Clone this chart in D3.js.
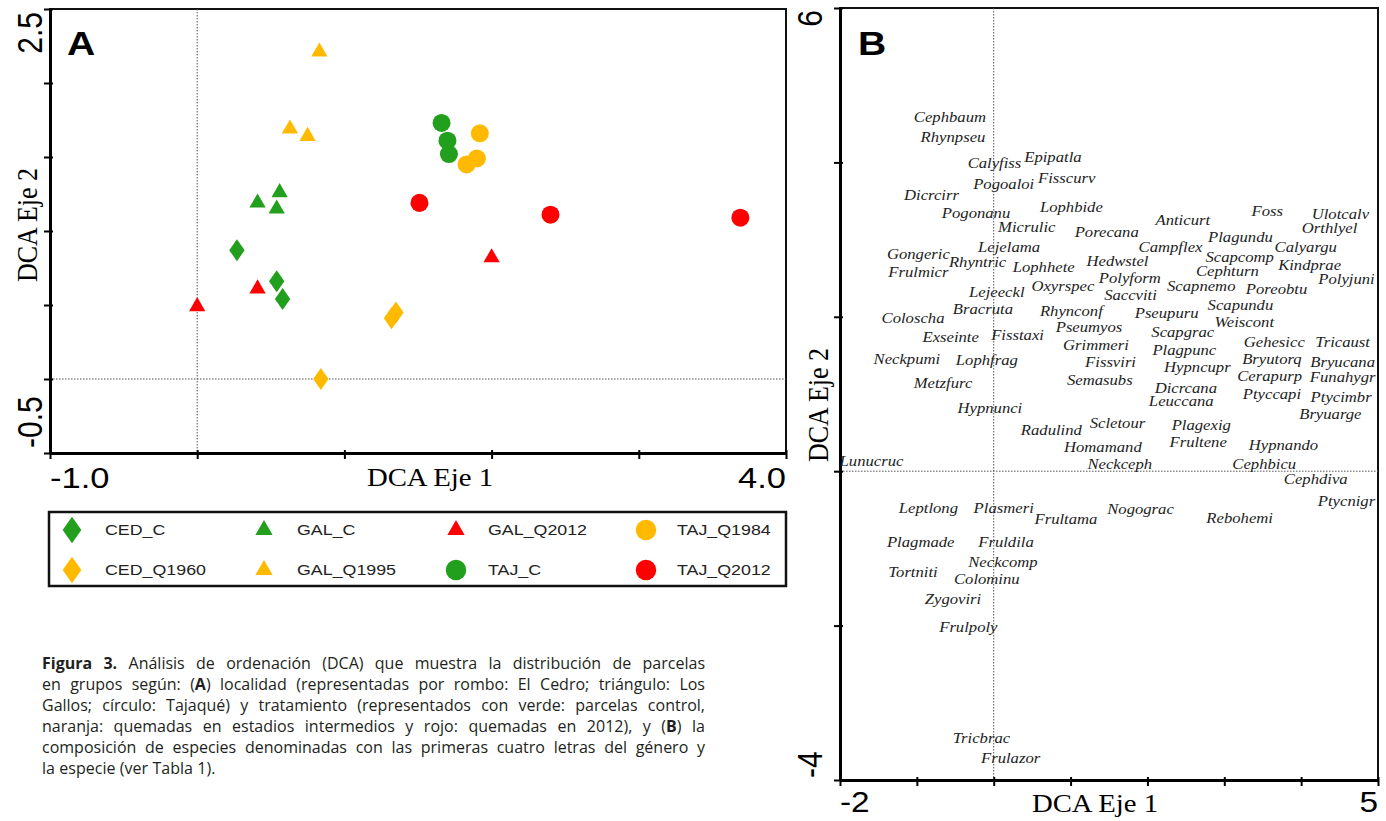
<!DOCTYPE html>
<html>
<head>
<meta charset="utf-8">
<script src="https://cdn.jsdelivr.net/npm/d3@7"></script>
<style>
  body { margin: 0; background: #fff; }
</style>
</head>
<body>
<svg id="chart" width="1386" height="821"></svg>
<script>
// ---- Panel A: sample scores per group ([eje1, eje2]) ----
const cedC     = [[0.27, 0.87], [0.54, 0.66], [0.58, 0.54]];
const cedQ1960 = [[1.32, 0.41], [1.35, 0.45], [0.84, 0.0]];
const galC     = [[0.41, 1.19], [0.56, 1.26], [0.54, 1.15]];
const galQ1995 = [[0.83, 2.21], [0.63, 1.69], [0.75, 1.64]];
const galQ2012 = [[0.0, 0.49], [0.41, 0.61], [2.0, 0.82]];
const tajC     = [[1.66, 1.73], [1.70, 1.61], [1.71, 1.52]];
const tajQ1984 = [[1.92, 1.66], [1.83, 1.45], [1.90, 1.49]];
const tajQ2012 = [[1.51, 1.19], [2.40, 1.11], [3.69, 1.09]];

const legendNames = ['CED_C', 'GAL_C', 'GAL_Q2012', 'TAJ_Q1984', 'CED_Q1960', 'GAL_Q1995', 'TAJ_C', 'TAJ_Q2012'];

// ticks
const ticksAx = [-1, 0, 1, 2, 3, 4];
const ticksAy = [-0.5, 0, 0.5, 1, 1.5, 2, 2.5];
const ticksBx = [-2, -1, 0, 1, 2, 3, 4, 5];
const ticksBy = [-4, -2, 0, 2, 4, 6];

// ---- Panel B: species scores ----
const speciesNames = [
  'Cephbaum', 'Rhynpseu', 'Calyfiss', 'Epipatla', 'Pogoaloi', 'Fisscurv', 'Dicrcirr', 'Lophbide',
  'Pogonanu', 'Micrulic', 'Porecana', 'Anticurt', 'Foss', 'Ulotcalv', 'Orthlyel', 'Plagundu',
  'Calyargu', 'Campflex', 'Lejelama', 'Gongeric', 'Rhyntric', 'Frulmicr', 'Lophhete', 'Hedwstel',
  'Scapcomp', 'Cephturn', 'Kindprae', 'Polyform', 'Polyjuni', 'Oxyrspec', 'Scapnemo', 'Poreobtu',
  'Saccviti', 'Lejeeckl', 'Bracruta', 'Scapundu', 'Rhynconf', 'Pseupuru', 'Coloscha', 'Weiscont',
  'Pseumyos', 'Scapgrac', 'Fisstaxi', 'Exseinte', 'Gehesicc', 'Tricaust', 'Grimmeri', 'Plagpunc',
  'Bryutorq', 'Bryucana', 'Neckpumi', 'Lophfrag', 'Fissviri', 'Hypncupr', 'Cerapurp', 'Funahygr',
  'Semasubs', 'Metzfurc', 'Dicrcana', 'Ptyccapi', 'Ptycimbr', 'Leuccana', 'Bryuarge', 'Hypnunci',
  'Scletour', 'Plagexig', 'Radulind', 'Frultene', 'Hypnando', 'Homamand', 'Cephbicu', 'Neckceph',
  'Lunucruc', 'Cephdiva', 'Ptycnigr', 'Leptlong', 'Plasmeri', 'Frultama', 'Nogograc', 'Rebohemi',
  'Plagmade', 'Fruldila', 'Neckcomp', 'Tortniti', 'Colominu', 'Zygoviri', 'Frulpoly', 'Tricbrac',
  'Frulazor'
];
const speciesX = [
  -0.57, -0.53, 0.01, 0.77, 0.13, 0.95, -0.81, 1.01,
  -0.23, 0.43, 1.47, 2.46, 3.56, 4.51, 4.37, 3.21,
  4.06, 2.30, 0.20, -0.98, -0.21, -0.98, 0.65, 1.61,
  3.20, 3.04, 4.11, 1.77, 4.59, 0.90, 2.70, 3.68,
  1.78, 0.04, -0.14, 3.21, 1.01, 2.25, -1.05, 3.26,
  1.24, 2.46, 0.31, -0.56, 3.65, 4.54, 1.33, 2.48,
  3.62, 4.54, -1.13, -0.09, 1.52, 2.65, 3.59, 4.54,
  1.38, -0.66, 2.50, 3.62, 4.52, 2.44, 4.38, -0.05,
  1.61, 2.70, 0.75, 2.66, 3.77, 1.42, 3.52, 1.64,
  -1.59, 4.19, 4.59, -0.85, 0.13, 0.94, 1.91, 3.20,
  -0.95, 0.16, 0.12, -1.05, -0.09, -0.53, -0.33, -0.16,
  0.22
];
const speciesY = [
  4.59, 4.33, 3.99, 4.07, 3.72, 3.80, 3.58, 3.42,
  3.35, 3.17, 3.10, 3.26, 3.37, 3.33, 3.15, 3.04,
  2.90, 2.90, 2.91, 2.82, 2.71, 2.58, 2.64, 2.73,
  2.78, 2.59, 2.67, 2.50, 2.49, 2.40, 2.40, 2.36,
  2.29, 2.32, 2.10, 2.15, 2.07, 2.05, 1.98, 1.94,
  1.87, 1.81, 1.77, 1.74, 1.67, 1.68, 1.63, 1.57,
  1.45, 1.42, 1.46, 1.44, 1.42, 1.35, 1.24, 1.22,
  1.18, 1.14, 1.08, 1.00, 0.96, 0.91, 0.74, 0.82,
  0.63, 0.60, 0.54, 0.38, 0.34, 0.31, 0.10, 0.10,
  0.13, -0.10, -0.38, -0.47, -0.47, -0.62, -0.49, -0.61,
  -0.92, -0.91, -1.17, -1.30, -1.39, -1.66, -2.02, -3.46,
  -3.72
];

const captionLines = [
  '**Figura 3.** Análisis de ordenación (DCA) que muestra la distribución de parcelas',
  'en grupos según: (**A**) localidad (representadas por rombo: El Cedro; triángulo: Los',
  'Gallos; círculo: Tajaqué) y tratamiento (representados con verde: parcelas control,',
  'naranja: quemadas en estadios intermedios y rojo: quemadas en 2012), y (**B**) la',
  'composición de especies denominadas con las primeras cuatro letras del género y',
  'la especie (ver Tabla 1).'
];

const GREEN = '#229f1c', ORANGE = '#ffba00', RED = '#ff0000';
const SX = 1.15; // the source figure is slightly stretched horizontally
const SANS = '"Liberation Sans", Arial, sans-serif';
const SERIF = '"Liberation Serif", "Times New Roman", serif';

const groups = [
  { name: 'CED_C', pts: cedC, shape: 'diamond', color: GREEN },
  { name: 'GAL_C', pts: galC, shape: 'triangle', color: GREEN },
  { name: 'GAL_Q2012', pts: galQ2012, shape: 'triangle', color: RED },
  { name: 'TAJ_Q1984', pts: tajQ1984, shape: 'circle', color: ORANGE },
  { name: 'CED_Q1960', pts: cedQ1960, shape: 'diamond', color: ORANGE },
  { name: 'GAL_Q1995', pts: galQ1995, shape: 'triangle', color: ORANGE },
  { name: 'TAJ_C', pts: tajC, shape: 'circle', color: GREEN },
  { name: 'TAJ_Q2012', pts: tajQ2012, shape: 'circle', color: RED }
];

// a wider diamond than d3's built-in one
const wideDiamond = {
  draw(ctx, size) {
    const h = Math.sqrt(size / 1.4), w = h * 0.7;
    ctx.moveTo(0, -h); ctx.lineTo(w, 0); ctx.lineTo(0, h); ctx.lineTo(-w, 0); ctx.closePath();
  }
};

const symbols = {
  diamond: d3.symbol().type(wideDiamond).size(170),
  triangle: d3.symbol().type(d3.symbolTriangle).size(115),
  circle: d3.symbol().type(d3.symbolCircle).size(255)
};

const svg = d3.select('#chart');

function label(g, s, x, y, o = {}) {
  return g.append('text')
    .attr('transform', `translate(${x},${y}) scale(${SX},1)${o.rot ? ' rotate(-90)' : ''}`)
    .attr('text-anchor', o.anchor || 'middle')
    .attr('dy', o.dy || '0.35em')
    .style('font-family', o.font || SANS)
    .style('font-size', (o.size || 14) + 'px')
    .style('font-weight', o.weight || 'normal')
    .style('font-style', o.italic ? 'italic' : 'normal')
    .attr('fill', o.fill || '#000')
    .text(s);
}

function frame(g, x, y) {
  const [x0, x1] = x.range(), [y1, y0] = y.range();
  g.append('rect')
    .attr('x', x0).attr('y', y0).attr('width', x1 - x0).attr('height', y1 - y0)
    .attr('fill', 'none').attr('stroke', '#111').attr('stroke-width', 2);
  // dotted zero lines
  g.append('line')
    .attr('x1', x(0)).attr('x2', x(0)).attr('y1', y0).attr('y2', y1)
    .attr('stroke', '#555').attr('stroke-width', 1).attr('stroke-dasharray', '1.5,1.5');
  g.append('line')
    .attr('x1', x0).attr('x2', x1).attr('y1', y(0)).attr('y2', y(0))
    .attr('stroke', '#555').attr('stroke-width', 1).attr('stroke-dasharray', '1.5,1.5');
}

function axes(g, x, y, tx, ty) {
  const xa = g.append('g')
    .attr('transform', `translate(0,${y.range()[0]})`)
    .call(d3.axisBottom(x).tickValues(tx).tickFormat('').tickSize(6).tickSizeOuter(0));
  const ya = g.append('g')
    .attr('transform', `translate(${x.range()[0]},0)`)
    .call(d3.axisLeft(y).tickValues(ty).tickFormat('').tickSize(6).tickSizeOuter(0));
  xa.selectAll('.tick line').attr('y1', -3).attr('stroke-width', 2);
  ya.selectAll('.tick line').attr('x1', 3).attr('stroke-width', 2);
  [xa, ya].forEach(a => a.select('.domain').attr('stroke-width', 3));
}

// ================= Panel A =================
const xA = d3.scaleLinear().domain([-1, 4]).range([50, 786]);
const yA = d3.scaleLinear().domain([-0.5, 2.5]).range([453, 9]);
const gA = svg.append('g');
frame(gA, xA, yA);
axes(gA, xA, yA, ticksAx, ticksAy);

groups.forEach(grp => {
  gA.selectAll(null)
    .data(grp.pts)
    .enter().append('path')
    .attr('d', symbols[grp.shape])
    .attr('transform', d => `translate(${xA(d[0])},${yA(d[1])})`)
    .attr('fill', grp.color);
});

label(gA, 'A', 67, 55, { size: 34, weight: 'bold', anchor: 'start', dy: '0' });
label(gA, '-1.0', xA(-1), 477, { size: 30, anchor: 'start' });
label(gA, '4.0', xA(4), 477, { size: 30, anchor: 'end' });
label(gA, '2.5', 30, yA(2.5) + 3, { size: 30, anchor: 'end', rot: true });
label(gA, '-0.5', 30, yA(-0.5) - 5, { size: 30, anchor: 'start', rot: true });
label(gA, 'DCA Eje 1', (xA(-1) + xA(4)) / 2 + 12, 477, { size: 25, font: SERIF });
label(gA, 'DCA Eje 2', 27, 225, { size: 26, font: SERIF, rot: true });

// legend
const legend = svg.append('g');
legend.append('rect')
  .attr('x', 49).attr('y', 512).attr('width', 737).attr('height', 74)
  .attr('fill', 'none').attr('stroke', '#111').attr('stroke-width', 2.5);
const legSymX = [72, 264, 456, 646], legTxtX = [105, 297, 488, 677], legRowY = [530, 570];
const legSym = {
  diamond: d3.symbol().type(wideDiamond).size(250),
  triangle: d3.symbol().type(d3.symbolTriangle).size(130),
  circle: d3.symbol().type(d3.symbolCircle).size(330)
};
legendNames.forEach((n, i) => {
  const grp = groups.find(g => g.name === n);
  const c = i % 4, r = Math.floor(i / 4);
  legend.append('path')
    .attr('d', legSym[grp.shape])
    .attr('transform', `translate(${legSymX[c]},${legRowY[r]})`)
    .attr('fill', grp.color);
  label(legend, n, legTxtX[c], legRowY[r], { size: 15.5, anchor: 'start', fill: '#222' });
});

// ================= Panel B =================
const xB = d3.scaleLinear().domain([-2, 5]).range([840, 1378]);
const yB = d3.scaleLinear().domain([-4, 6]).range([780, 8]);
const gB = svg.append('g');
frame(gB, xB, yB);
axes(gB, xB, yB, ticksBx, ticksBy);

speciesNames.forEach((n, i) => {
  label(gB, n, xB(speciesX[i]), yB(speciesY[i]), {
    size: 14.5, font: SERIF, italic: true, fill: '#222'
  });
});

label(gB, 'B', 858, 55, { size: 34, weight: 'bold', anchor: 'start', dy: '0' });
label(gB, '-2', xB(-2), 802, { size: 29, anchor: 'start' });
label(gB, '5', xB(5), 802, { size: 29, anchor: 'end' });
label(gB, '6', 810, yB(6) + 2, { size: 30, anchor: 'end', rot: true });
label(gB, '-4', 810, yB(-4) - 2, { size: 30, anchor: 'start', rot: true });
label(gB, 'DCA Eje 1', (xB(-2) + xB(5)) / 2 - 14, 803, { size: 25, font: SERIF });
label(gB, 'DCA Eje 2', 818, 405, { size: 26, font: SERIF, rot: true });

// ================= Caption (justified) =================
const capLeft = 42, capWidth = 663, SPACE = 4.4;
const cap = svg.append('g')
  .style('font-family', '"Open Sans", sans-serif')
  .style('font-size', '16px')
  .attr('fill', '#231f20');
let bold = false;
const capRows = captionLines.map((line, li) => {
  const lg = cap.append('g');
  const nodes = line.split(' ').map(w => {
    const t = lg.append('text');
    w.split('**').forEach((seg, k) => {
      if (k > 0) bold = !bold;
      if (seg) t.append('tspan').attr('font-weight', bold ? 700 : 400).text(seg);
    });
    return t;
  });
  const widths = nodes.map(t => t.node().getComputedTextLength());
  return { lg, nodes, widths, natural: d3.sum(widths) + SPACE * (nodes.length - 1) };
});
// squeeze horizontally so that the widest line just fits
const CX = Math.min(1, capWidth / d3.max(capRows, r => r.natural));
capRows.forEach((r, li) => {
  r.lg.attr('transform', `translate(${capLeft},${669 + li * 20.9}) scale(${CX},1)`);
  const last = li === capRows.length - 1;
  const gap = last ? SPACE : (capWidth / CX - d3.sum(r.widths)) / (r.nodes.length - 1);
  let xx = 0;
  r.nodes.forEach((t, k) => { t.attr('x', xx); xx += r.widths[k] + gap; });
});
</script>
</body>
</html>
